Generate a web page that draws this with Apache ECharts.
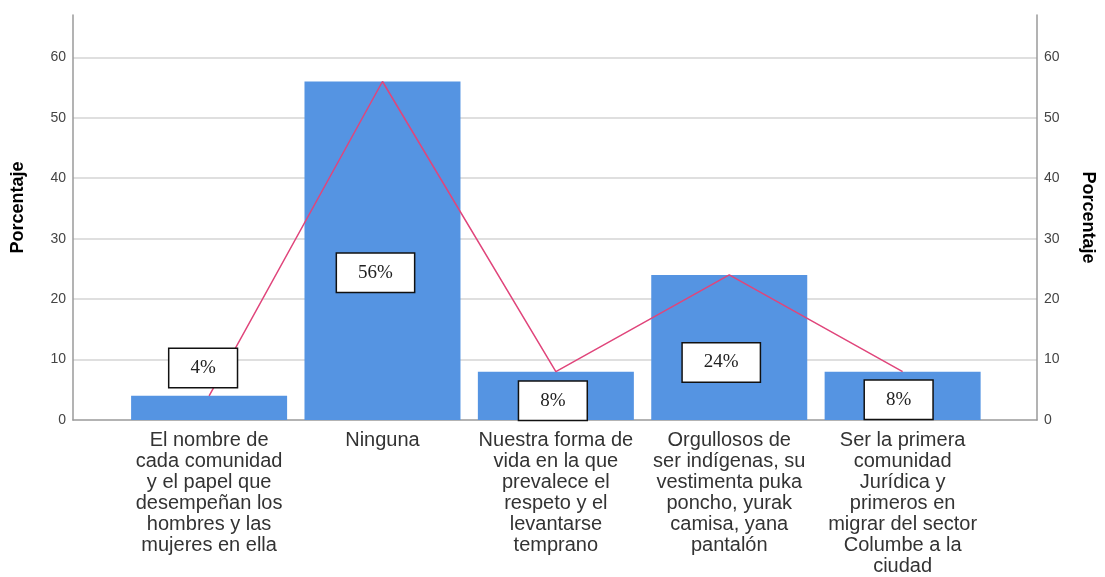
<!DOCTYPE html>
<html>
<head>
<meta charset="utf-8">
<script src="https://cdn.jsdelivr.net/npm/echarts@6/dist/echarts.min.js"></script>
<style>
html,body{margin:0;padding:0;background:#fff;}
#chart{width:1105px;height:577px;}
</style>
</head>
<body>
<div id="chart"></div>
<script>
var categories = [
  "El nombre de\ncada comunidad\ny el papel que\ndesempeñan los\nhombres y las\nmujeres en ella",
  "Ninguna",
  "Nuestra forma de\nvida en la que\nprevalece el\nrespeto y el\nlevantarse\ntemprano",
  "Orgullosos de\nser indígenas, su\nvestimenta puka\nponcho, yurak\ncamisa, yana\npantalón",
  "Ser la primera\ncomunidad\nJurídica y\nprimeros en\nmigrar del sector\nColumbe a la\nciudad"
];
var percentages = [4, 56, 8, 24, 8];
var yTicks = [0, 10, 20, 30, 40, 50, 60];
var axisName = "Porcentaje";

// layout: label box offsets from bar centre (px)
var labelOffsets = [[-6, -40], [-7, 22], [-3, 5], [-8, 15], [-4, 4]];

var idx = categories.map(function (c, i) { return i; });
var barData = percentages.map(function (v, i) { return [i, v]; });
var labelData = percentages.map(function (v, i) {
  return { value: [i, v], label: { offset: labelOffsets[i] } };
});

var chart = echarts.init(document.getElementById('chart'), null, { renderer: 'canvas' });

function yAxisCfg(pos) {
  return {
    type: 'value',
    position: pos,
    min: 0,
    max: 67,
    interval: 10,
    name: axisName,
    nameLocation: 'middle',
    nameGap: pos === 'left' ? 46 : 42,
    nameRotate: pos === 'left' ? 90 : -90,
    nameTextStyle: {
      fontFamily: 'Liberation Sans', fontSize: 18, fontWeight: 'bold', color: '#000',
      padding: pos === 'left' ? [0, 0, 0, 20] : [0, 0, 0, 0]
    },
    axisLine: { show: true, onZero: false, lineStyle: { color: '#9a9a9a', width: 1.5 } },
    axisTick: { show: false },
    axisLabel: {
      margin: 7,
      fontFamily: 'Liberation Sans',
      fontSize: 14,
      color: '#444',
      customValues: yTicks
    },
    splitLine: pos === 'left' ? { show: true, showMaxLine: false, showMinLine: false, lineStyle: { color: '#d4d4d4', width: 1.5 } } : { show: false }
  };
}

var option = {
  backgroundColor: '#ffffff',
  animation: false,
  grid: { left: 73, right: 64, top: 15, bottom: 156, containLabel: false },
  xAxis: {
    type: 'value',
    min: -0.785,
    max: 4.775,
    axisLine: { show: true, onZero: false, lineStyle: { color: '#9a9a9a', width: 1.5 } },
    axisTick: { show: false },
    splitLine: { show: false },
    axisLabel: {
      customValues: idx,
      formatter: function (v) { return categories[Math.round(v)] || ''; },
      margin: 10,
      fontFamily: 'Liberation Sans',
      fontSize: 20,
      lineHeight: 21,
      color: '#333',
      align: 'center'
    }
  },
  yAxis: [yAxisCfg('left'), yAxisCfg('right')],
  series: [
    {
      type: 'bar',
      data: barData,
      barWidth: 156,
      barGap: '-100%',
      itemStyle: { color: '#5594e2' },
      z: 2,
      silent: true
    },
    {
      type: 'line',
      data: barData,
      symbol: 'none',
      lineStyle: { color: '#e0457b', width: 1.5 },
      z: 3,
      silent: true
    },
    {
      type: 'bar',
      data: labelData,
      barWidth: 156,
      barGap: '-100%',
      itemStyle: { color: 'rgba(0,0,0,0)' },
      z: 4,
      silent: true,
      label: {
        show: true,
        position: 'inside',
        formatter: function (p) { return p.value[1] + '%'; },
        fontFamily: 'Liberation Serif',
        fontSize: 19,
        color: '#222',
        backgroundColor: '#ffffff',
        borderColor: '#111',
        borderWidth: 1.5,
        padding: [10, 21, 9, 21]
      }
    }
  ]
};
chart.setOption(option);
</script>
</body>
</html>
